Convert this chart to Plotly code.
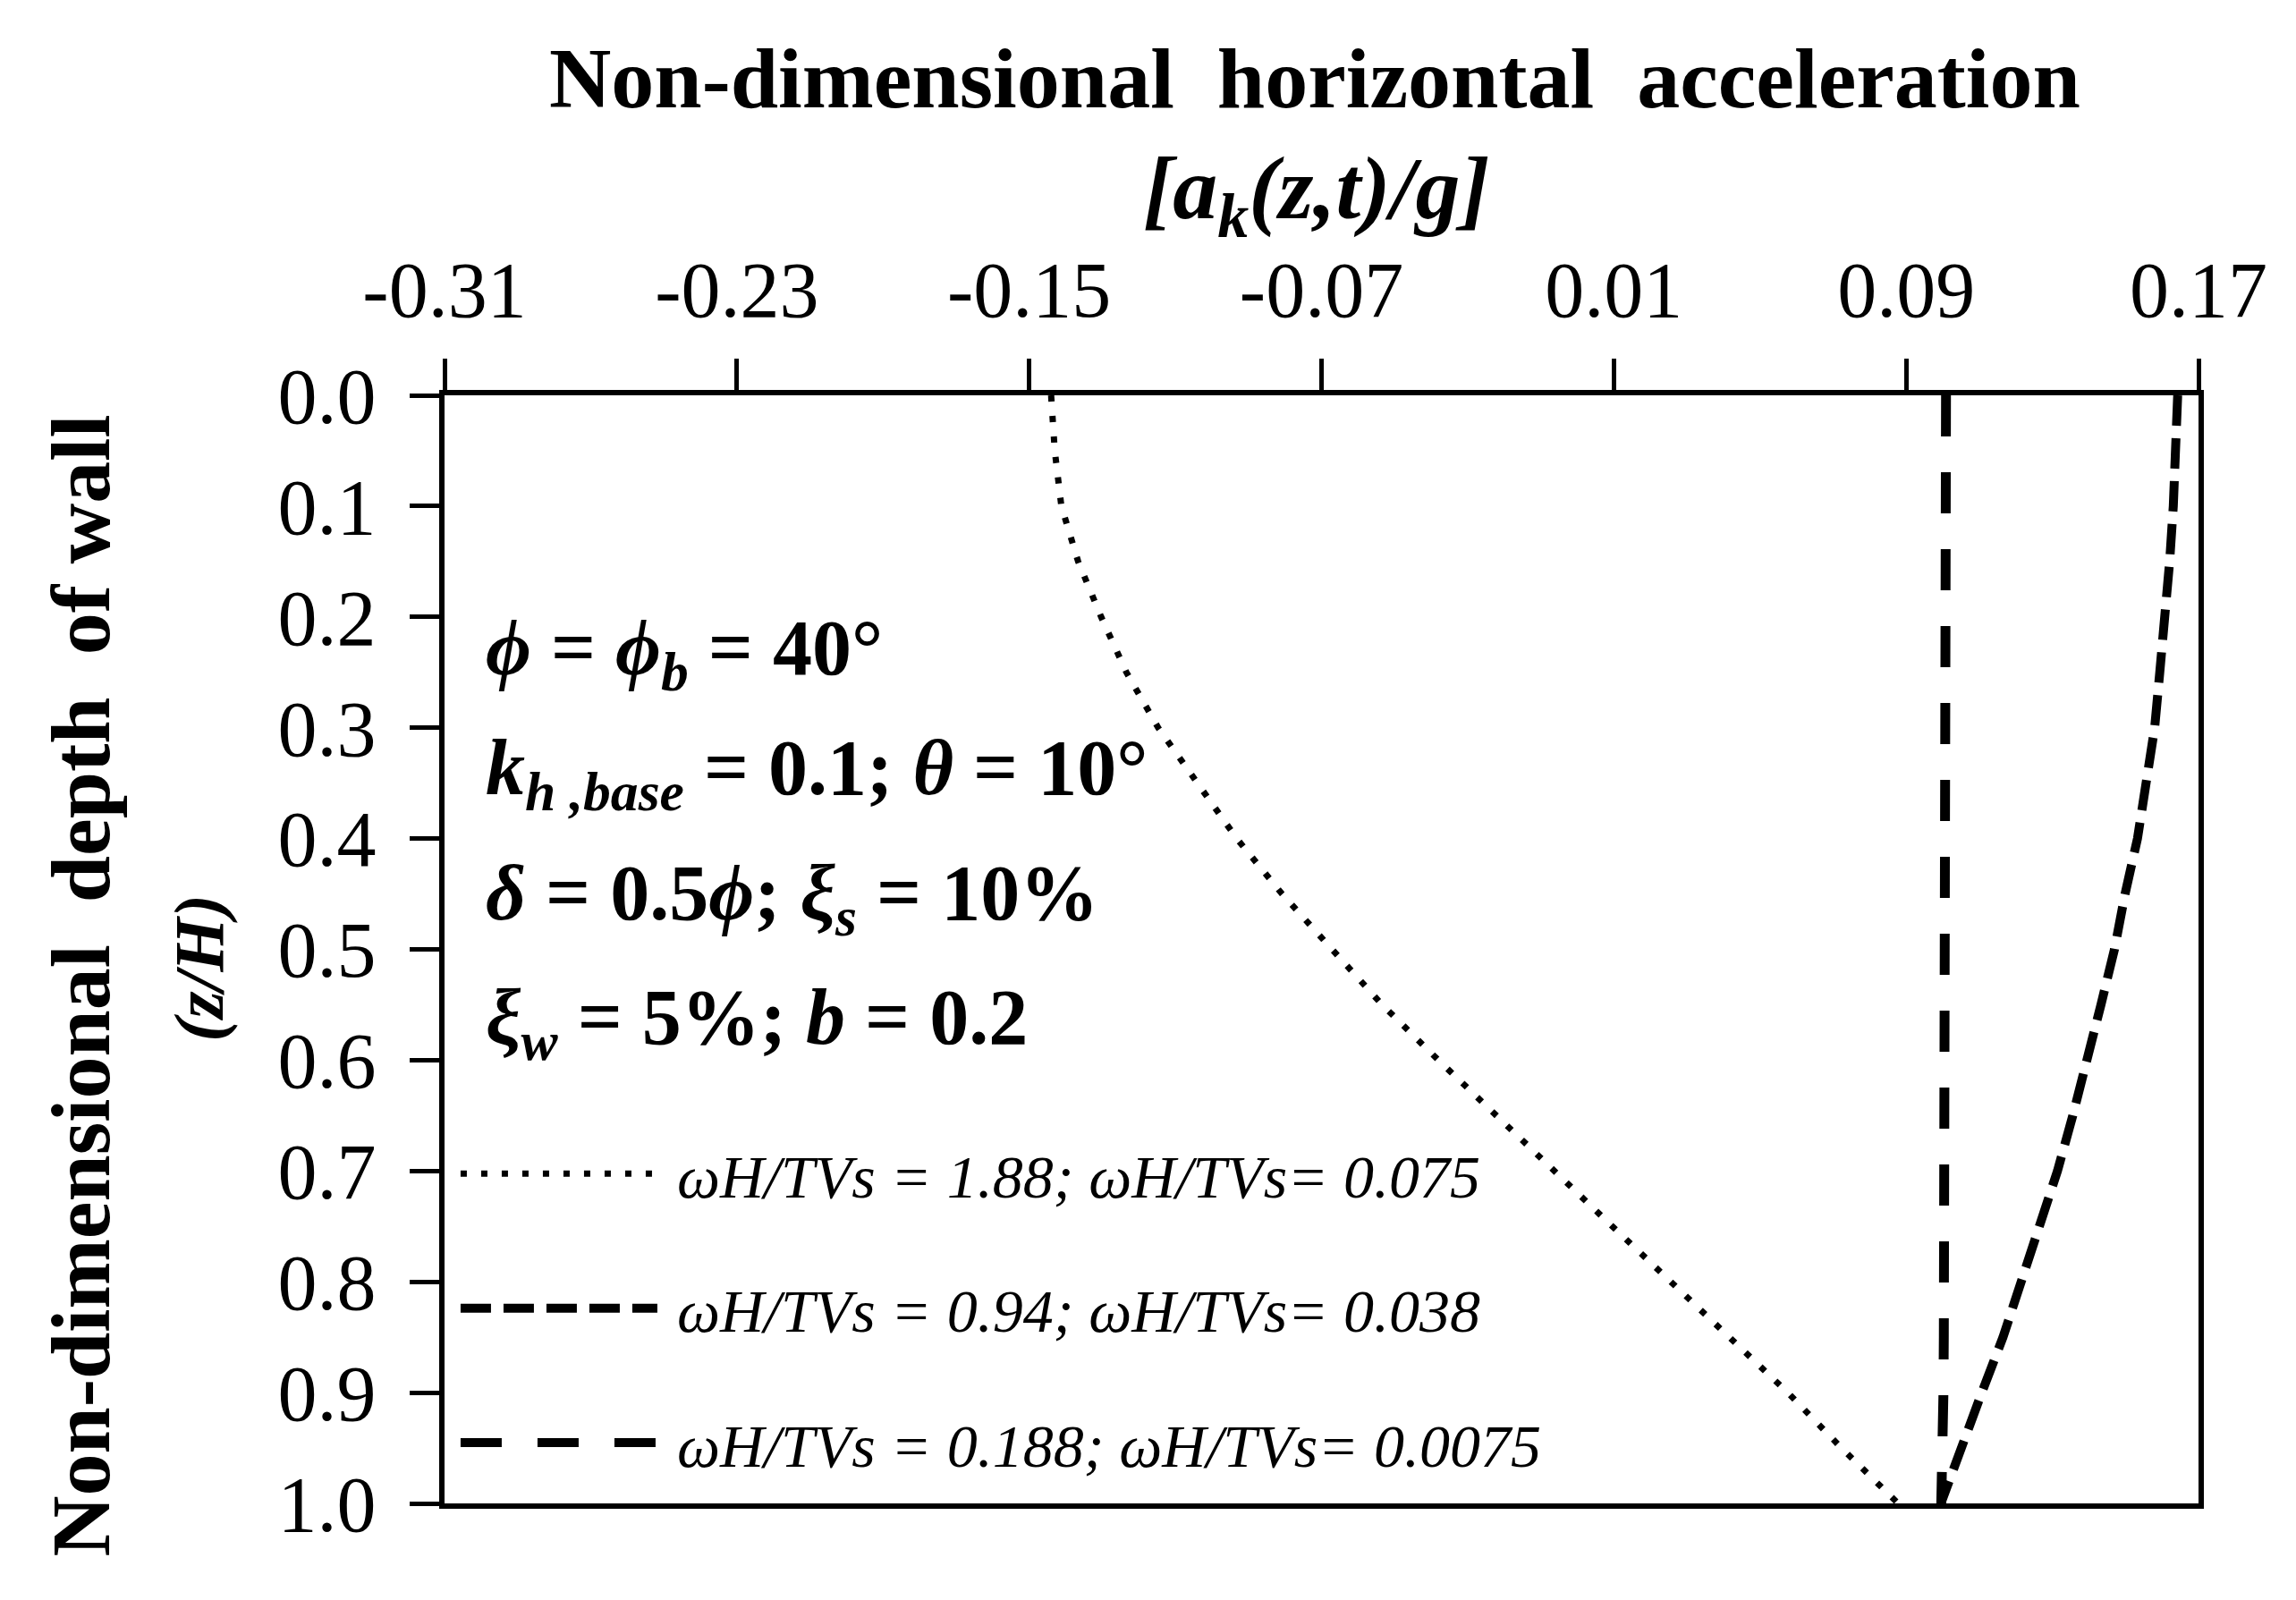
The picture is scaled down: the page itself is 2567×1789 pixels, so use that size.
import plotly.graph_objects as go

# ---------------- data ----------------
depth = [0.00, 0.05, 0.10, 0.15, 0.20, 0.25, 0.30, 0.35, 0.40, 0.45, 0.50,
         0.55, 0.60, 0.65, 0.70, 0.75, 0.80, 0.85, 0.90, 0.95, 1.00]

acc_188 = [-0.1440, -0.1430, -0.1412, -0.1366, -0.1303, -0.1234, -0.1147,
           -0.1040, -0.0932, -0.0808, -0.0670, -0.0534, -0.0380, -0.0222,
           -0.0067, 0.0096, 0.0256, 0.0415, 0.0576, 0.0723, 0.0878]

acc_094 = [0.1643, 0.1639, 0.1631, 0.1621, 0.1610, 0.1594, 0.1580, 0.1557,
           0.1533, 0.1499, 0.1470, 0.1433, 0.1397, 0.1356, 0.1314, 0.1266,
           0.1214, 0.1165, 0.1107, 0.1050, 0.0995]

acc_0188 = [0.1009, 0.1009, 0.1009, 0.1008, 0.1008, 0.1008, 0.1008, 0.1007,
            0.1007, 0.1007, 0.1006, 0.1006, 0.1006, 0.1005, 0.1005, 0.1004,
            0.1004, 0.1003, 0.1002, 0.1000, 0.0996]

names = ["ωH/TVs = 1.88; ωH/TVs= 0.075",
         "ωH/TVs = 0.94; ωH/TVs= 0.038",
         "ωH/TVs = 0.188; ωH/TVs= 0.0075"]

x_ticks = [-0.31, -0.23, -0.15, -0.07, 0.01, 0.09, 0.17]
x_ticklabels = ["-0.31", "-0.23", "-0.15", "-0.07", "0.01", "0.09", "0.17"]
y_ticks = [0.0, 0.1, 0.2, 0.3, 0.4, 0.5, 0.6, 0.7, 0.8, 0.9, 1.0]
y_ticklabels = ["0.0", "0.1", "0.2", "0.3", "0.4", "0.5", "0.6", "0.7", "0.8", "0.9", "1.0"]

param_lines = [
    "<b><i>ϕ</i> = <i>ϕ<sub>b</sub></i> = 40°</b>",
    "<b><i>k<sub>h ,base</sub></i> = 0.1; <i>θ</i> = 10°</b>",
    "<b><i>δ</i> = 0.5<i>ϕ</i>; <i>ξ<sub>s</sub></i> = 10%</b>",
    "<b><i>ξ<sub>w</sub></i> = 5%; <i>b</i> = 0.2</b>",
]
param_y = [0.7675, 0.659, 0.546, 0.434]

FONT = "Liberation Serif"

# ---------------- figure ----------------
fig = go.Figure()

styles = [
    dict(width=7, dash="7px,16px"),
    dict(width=10, dash="34px,14px"),
    dict(width=11, dash="46px,40px"),
]
for i, (vals, nm) in enumerate(zip([acc_188, acc_094, acc_0188], names)):
    fig.add_trace(go.Scatter(
        x=vals, y=depth, mode="lines", name="\u00a0" + nm,
        line=dict(color="black", **styles[i]),
        legendgroup=f"g{i}",
    ))

fig.update_xaxes(
    side="top", range=[-0.31, 0.17], tickvals=x_ticks, ticktext=x_ticklabels,
    ticks="outside", ticklen=35, tickwidth=5, tickcolor="black",
    showline=True, linewidth=6, linecolor="black", mirror=True,
    showgrid=False, zeroline=False,
    tickfont=dict(family=FONT, size=88, color="black"),
    ticklabelstandoff=12,
)
fig.update_yaxes(
    range=[1.0, 0.0], tickvals=y_ticks, ticktext=y_ticklabels,
    ticks="outside", ticklen=33, tickwidth=5, tickcolor="black",
    showline=True, linewidth=6, linecolor="black", mirror=True,
    showgrid=False, zeroline=False,
    tickfont=dict(family=FONT, size=88, color="black"),
    ticklabelstandoff=20,
)

annotations = []
# x-axis title (two lines)
annotations.append(dict(
    text="<b>Non-dimensional\u00a0 horizontal\u00a0 acceleration</b>",
    xref="paper", yref="paper", x=0.496, y=1.286, xanchor="center", yanchor="middle",
    showarrow=False, font=dict(family=FONT, size=96, color="black")))
annotations.append(dict(
    text="<b><i>[a<sub>k</sub>(z,t)/g]</i></b>",
    xref="paper", yref="paper", x=0.497, y=1.181, xanchor="center", yanchor="middle",
    showarrow=False, font=dict(family=FONT, size=100, color="black")))
# y-axis title (two lines, rotated)
annotations.append(dict(
    text="<b>Non-dimensional\u00a0 depth\u00a0 of wall</b>",
    xref="paper", yref="paper", x=-0.2075, y=0.467, xanchor="center", yanchor="middle",
    textangle=-90, showarrow=False, font=dict(family=FONT, size=94, color="black")))
annotations.append(dict(
    text="<b><i>(z/H)</i></b>",
    xref="paper", yref="paper", x=-0.1402, y=0.483, xanchor="center", yanchor="middle",
    textangle=-90, showarrow=False, font=dict(family=FONT, size=78, color="black")))
# parameter block
for txt, yy in zip(param_lines, param_y):
    annotations.append(dict(
        text=txt, xref="paper", yref="paper", x=0.0224, y=yy,
        xanchor="left", yanchor="middle", showarrow=False,
        font=dict(family=FONT, size=88, color="black")))

fig.update_layout(
    width=2551, height=1773,
    margin=dict(l=489, r=101, t=434, b=100),
    paper_bgcolor="white", plot_bgcolor="white",
    showlegend=True,
    legend=dict(
        x=0.0066, y=0.3385, xanchor="left", yanchor="top",
        bgcolor="rgba(0,0,0,0)", borderwidth=0,
        font=dict(family=FONT, size=68, color="black", style="italic"),
        itemwidth=220, tracegroupgap=59,
    ),
    annotations=annotations,
)

fig.write_html("out.html")
